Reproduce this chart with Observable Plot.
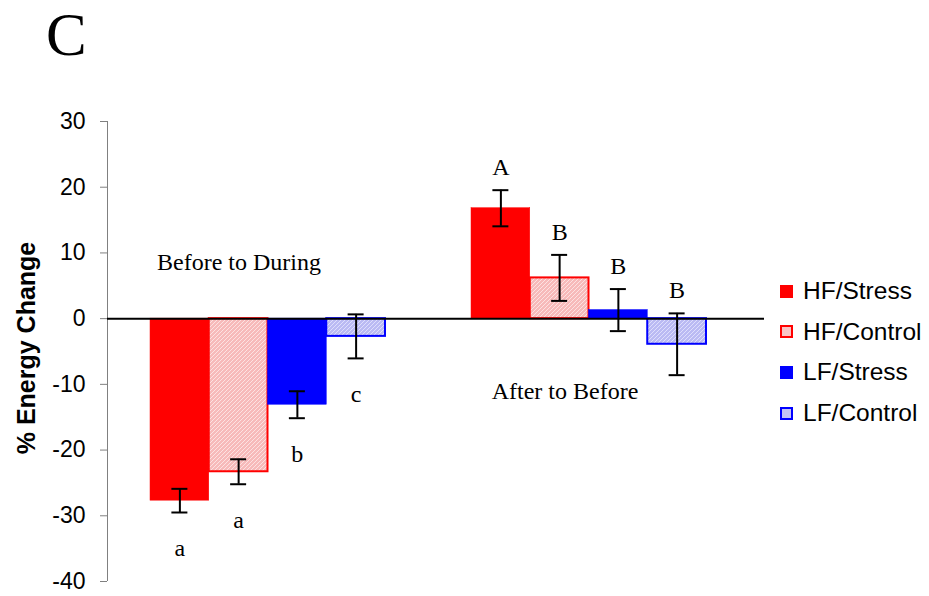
<!DOCTYPE html>
<html>
<head>
<meta charset="utf-8">
<script src="https://cdn.jsdelivr.net/npm/d3@7"></script>
<script src="https://cdn.jsdelivr.net/npm/@observablehq/plot@0.6"></script>
<style>
  body { margin: 0; background: #fff; }
  #fig { position: relative; width: 929px; height: 596px; overflow: hidden; font-family: "Liberation Sans", Arial, sans-serif; }
  #fig svg { position: absolute; left: 0; top: 0; }
  .panel { position: absolute; left: 46px; top: 1px; font: 61px/68px "Liberation Serif", "Times New Roman", serif; color: #000; }
  .ylab { position: absolute; left: 26px; top: 348px; transform: translate(-50%, -50%) rotate(-90deg); font: bold 25px "Liberation Sans", Arial, sans-serif; white-space: nowrap; }
  .legend { position: absolute; left: 780px; top: 271px; }
  .legend .row { display: flex; align-items: center; height: 40.6px; font-size: 24.5px; white-space: nowrap; }
  .legend .sw { width: 13px; height: 13px; box-sizing: border-box; margin-right: 10px; }
</style>
</head>
<body>
<div id="fig">
  <div class="panel">C</div>
  <div class="ylab">% Energy Change</div>
  <div class="legend" id="legend"></div>
</div>
<script>
// Comparison periods and treatment groups
const groups = ["Before to During", "After to Before"];
const series = ["HF/Stress", "HF/Control", "LF/Stress", "LF/Control"];

// Mean % energy change per treatment
const beforeToDuring = [-27.7, -23.3, -13.1, -2.7];
const afterToBefore = [16.8, 6.2, 1.3, -3.9];

// Error (± half-range of the error bars)
const errBeforeToDuring = [1.8, 1.9, 2.05, 3.35];
const errAfterToBefore = [2.75, 3.5, 3.2, 4.7];

// Significance letters
const lettersBeforeToDuring = ["a", "a", "b", "c"];
const lettersAfterToBefore = ["A", "B", "B", "B"];

// Y axis ticks
const yTicks = [30, 20, 10, 0, -10, -20, -30, -40];

// Bar fills per treatment (controls use a fine dotted texture)
const fills = ["#ff0000", "url(#tex-hf)", "#0000ff", "url(#tex-lf)"];
const strokes = ["#ff0000", "#ff0000", "#0000ff", "#0000ff"];
const swatchFills = ["#ff0000", "#f9c4c4", "#0000ff", "#c4c4f6"];

const values = [beforeToDuring, afterToBefore];
const errors = [errBeforeToDuring, errAfterToBefore];
const letters = [lettersBeforeToDuring, lettersAfterToBefore];

const bars = groups.flatMap((g, gi) => series.map((s, si) => ({
  group: g, gi, series: s, si,
  value: values[gi][si], error: errors[gi][si], letter: letters[gi][si]
})));

// each group occupies one unit on x; bars fill ~73% of it
const band = 0.183;
const center = d => d.gi + 0.5 + (d.si - 1.5) * band;

const serif = "Liberation Serif, Times New Roman, serif";

const plot = Plot.plot({
  width: 929,
  height: 596,
  marginTop: 121,
  marginBottom: 15,
  marginLeft: 107,
  marginRight: 165,
  style: { background: "transparent", fontFamily: "Liberation Sans, Arial, sans-serif", color: "#000" },
  x: { domain: [0, 2], range: [107, 749], axis: null },
  y: { domain: [-40, 30], axis: null },
  color: { type: "ordinal", domain: series, range: fills },
  marks: [
    Plot.rect(bars, {
      x1: d => center(d) - band / 2,
      x2: d => center(d) + band / 2,
      y1: 0,
      y2: "value",
      fill: "series",
      stroke: d => strokes[d.si],
      strokeWidth: d => (d.si % 2 ? 2 : 0.5)
    }),
    Plot.ruleX([0], { stroke: "#808080", strokeWidth: 1 }),
    Plot.axisY({
      ticks: yTicks,
      tickSize: 7,
      tickPadding: 15,
      tickFormat: d => String(d),
      fontSize: 23,
      stroke: "#808080",
      label: null
    }),
    Plot.ruleY([0], { stroke: "#000", strokeWidth: 2 }),
    // error bars
    Plot.ruleX(bars, {
      x: center,
      y1: d => d.value - d.error,
      y2: d => d.value + d.error,
      stroke: "#000",
      strokeWidth: 2
    }),
    Plot.ruleY(bars, {
      x1: center, x2: center, y: d => d.value + d.error,
      insetLeft: -8, insetRight: -8, stroke: "#000", strokeWidth: 2
    }),
    Plot.ruleY(bars, {
      x1: center, x2: center, y: d => d.value - d.error,
      insetLeft: -8, insetRight: -8, stroke: "#000", strokeWidth: 2
    }),
    // significance letters
    Plot.text(bars.filter(d => d.gi === 0), {
      x: center, y: d => d.value - d.error, text: "letter",
      dy: 36, fontSize: 24, fontFamily: serif, fill: "#000"
    }),
    Plot.text(bars.filter(d => d.gi === 1), {
      x: center, y: d => d.value + d.error, text: "letter",
      dy: -23, fontSize: 24, fontFamily: serif, fill: "#000"
    }),
    // period labels
    Plot.text([groups[0]], {
      x: 0.5, y: 0, text: d => d, dx: -29, dy: -56,
      fontSize: 24, fontFamily: serif, fill: "#000"
    }),
    Plot.text([groups[1]], {
      x: 1.5, y: 0, text: d => d, dx: -24, dy: 73,
      fontSize: 24, fontFamily: serif, fill: "#000"
    })
  ]
});

// dotted textures for the control bars
const defs = d3.select(plot).insert("defs", ":first-child");
function texture(id, base, dot) {
  const p = defs.append("pattern")
    .attr("id", id).attr("width", 4).attr("height", 4)
    .attr("patternUnits", "userSpaceOnUse");
  p.append("rect").attr("width", 4).attr("height", 4).attr("fill", base);
  [[0, 0], [2, 2], [1, 3], [3, 1]].forEach(([x, y]) =>
    p.append("rect").attr("x", x).attr("y", y).attr("width", 1).attr("height", 1).attr("fill", dot));
}
texture("tex-hf", "#f7baba", "#fde2e2");
texture("tex-lf", "#babaf3", "#dedefc");

document.getElementById("fig").prepend(plot);

// legend
const legend = d3.select("#legend");
series.forEach((s, i) => {
  const row = legend.append("div").attr("class", "row");
  row.append("div").attr("class", "sw")
    .style("background", swatchFills[i])
    .style("border", i % 2 ? `2px solid ${strokes[i]}` : "none");
  row.append("span").text(s);
});
</script>
</body>
</html>
